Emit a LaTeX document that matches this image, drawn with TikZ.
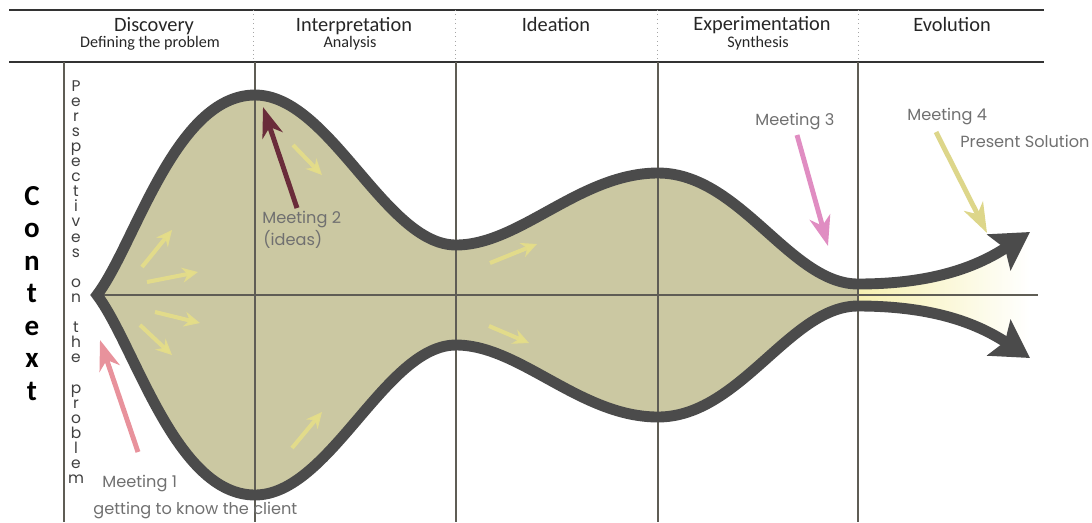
\documentclass[tikz,border=0pt]{standalone}
\usepackage{fontspec}
\setmainfont{Carlito}
\newfontfamily\gothic{Poppins}
\usepackage{xcolor}
\usetikzlibrary{arrows.meta}
\definecolor{khaki}{HTML}{CBC8A2}
\definecolor{funnel}{HTML}{4B4B4B}
\definecolor{gridgray}{HTML}{5F5D55}
\definecolor{labelgray}{HTML}{707070}
\definecolor{paleyellow}{HTML}{F6F0B0}
\definecolor{flowyellow}{HTML}{E5DE88}
\definecolor{rosepink}{HTML}{E8929C}
\definecolor{maroon}{HTML}{6A2C3A}
\definecolor{orchid}{HTML}{E08DC2}
\definecolor{olivey}{HTML}{DDD68A}

\begin{document}
\begin{tikzpicture}[x=0.02cm, y=-0.02cm,
% common options for the header:
phase/.style = {font=\fontsize{11.6}{13}\selectfont, text=black!85, anchor=base, inner sep=0},
subphase/.style = {font=\fontsize{9.2}{10}\selectfont, text=black!85, anchor=base, inner sep=0},
% common options for the side letters:
ctx/.style = {font=\bfseries\fontsize{16.5}{18}\selectfont, anchor=base, inner sep=0},
persp/.style = {font=\gothic\fontsize{8.8}{9}\selectfont, text=black!75, anchor=base, inner sep=0},
% common options for the meetings:
meet/.style = {font=\gothic\fontsize{9.2}{10}\selectfont, text=labelgray, anchor=base west, inner sep=0},
meetarrow/.style = {line width=2.8pt, -{Stealth[length=17pt, width=12pt, inset=5pt]}},
flow/.style = {flowyellow, opacity=0.9, line width=2.3pt, -{Stealth[length=9pt, width=8.5pt, inset=3pt]}},
gridline/.style = {gridgray, line width=1.1pt}]
\useasboundingbox (0,0) rectangle (1092,522);

% funnel body
\fill[khaki] (97,295) .. controls (135,245) and (175,95) .. (255,95)
  .. controls (330,95) and (385,245) .. (456,245)
  .. controls (520,245) and (580,173) .. (658,173)
  .. controls (740,173) and (790,284) .. (858,284)
  -- (858,306) .. controls (790,306) and (740,417) .. (658,417)
  .. controls (580,417) and (520,345) .. (456,345)
  .. controls (385,345) and (330,495) .. (255,495)
  .. controls (175,495) and (135,345) .. (97,295) -- cycle;
\shade[left color=paleyellow, right color=white] (858,284)
  .. controls (930,284) and (975,268) .. (1030,232) -- (1030,358)
  .. controls (975,322) and (930,306) .. (858,306) -- cycle;

% header and grid
\draw[black!80, line width=1.3pt] (9,10) -- (1044,10);
\draw[black!80, line width=1.3pt] (9,62) -- (1044,62);
\foreach \x in {253,455,657,858}
  \draw[black!35, dotted, line width=0.5pt] (\x,10) -- (\x,62);
\draw[gridline] (64,62) -- (64,522);
\foreach \x in {255,456,658,858}
  \draw[gridline] (\x,62) -- (\x,522);
\draw[gridline] (97,295) -- (1038,295);

\node[phase] (H1) at (154,31) {Discovery};
\node[subphase] (S1) at (150,47) {Defining the problem};
\node[phase] (H2) at (354,31) {Interpretation};
\node[subphase] (S2) at (350,47) {Analysis};
\node[phase] (H3) at (556,31) {Ideation};
\node[phase] (H4) at (762,30) {Experimentation};
\node[subphase] (S4) at (758,47) {Synthesis};
\node[phase] (H5) at (952,31) {Evolution};

% side texts
\foreach \ch [count=\i from 0] in {C,o,n,t,e,x,t}
  \node[ctx] (ctx\i) at (32,{205+\i*32.5}) {\ch};
\foreach \ch [count=\i from 0] in {P,e,r,s,p,e,c,t,i,v,e,s,{},o,n,{},t,h,e,{},p,r,o,b,l,e,m}
  \node[persp] (persp\i) at (76,{91+\i*15.1}) {\ch};

% funnel outline
\draw[funnel, line width=6.2pt, line join=miter,
  {Stealth[length=21pt, width=24pt, inset=4pt]}-{Stealth[length=21pt, width=24pt, inset=4pt]}]
  (1030,232) .. controls (975,268) and (930,284) .. (858,284)
  .. controls (790,284) and (740,173) .. (658,173)
  .. controls (580,173) and (520,245) .. (456,245)
  .. controls (385,245) and (330,95) .. (255,95)
  .. controls (175,95) and (135,245) .. (97,295)
  .. controls (135,345) and (175,495) .. (255,495)
  .. controls (330,495) and (385,345) .. (456,345)
  .. controls (520,345) and (580,417) .. (658,417)
  .. controls (740,417) and (790,306) .. (858,306)
  .. controls (930,306) and (975,322) .. (1030,358);

% small flow arrows
\foreach \xa/\ya/\xb/\yb in {142/267/172/230, 147/282/198/272, 155/312/200/323,
  140/325/172/355, 293/145/322/175, 292/448/322/412, 490/263/537/244, 489/326/529/343}
  \draw[flow] (\xa,\ya) -- (\xb,\yb);

% meetings
\node[meet] (M1) at (102,487) {Meeting 1};
\node[meet] (M1b) at (93,514) {getting to know the client};
\coordinate (m1tail) at (138,452);
\coordinate (m1head) at (100,340);
\draw[meetarrow, rosepink] (m1tail) -- (m1head);

\node[meet] (M2) at (262,223) {Meeting 2};
\node[meet] (M2b) at (263,245) {(ideas)};
\coordinate (m2tail) at (297,208);
\coordinate (m2head) at (263,107);
\draw[meetarrow, maroon] (m2tail) -- (m2head);

\node[meet] (M3) at (755,125) {Meeting 3};
\coordinate (m3tail) at (797,135);
\coordinate (m3head) at (828,246);
\draw[meetarrow, orchid] (m3tail) -- (m3head);

\node[meet] (M4) at (907,120) {Meeting 4};
\node[meet] (M4b) at (960,147) {Present Solution};
\coordinate (m4tail) at (936,132);
\coordinate (m4head) at (987,233);
\draw[meetarrow, olivey] (m4tail) -- (m4head);
\end{tikzpicture}
\end{document}
